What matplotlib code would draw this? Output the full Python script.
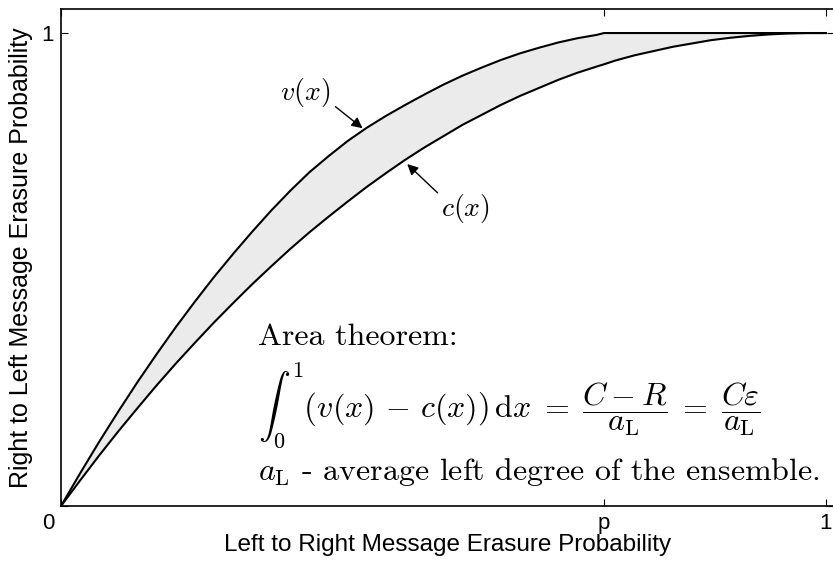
import matplotlib
matplotlib.use("Agg")
import matplotlib.pyplot as plt
import matplotlib.transforms as mtransforms

plt.rcParams['mathtext.fontset'] = 'cm'
plt.rcParams['font.family'] = ['Liberation Sans', 'DejaVu Sans']

# erasure probability where v(x) reaches 1
p_val = 0.71

# points along the two EXIT curves
x_pts = [0, .025, .05, .075, .10, .125, .15, .175, .20, .225, .25, .275, .30, .325,
         .35, .375, .40, .425, .45, .475, .50, .525, .55, .575, .60, .625, .65, .675,
         .70, .71, .725, .75, .775, .80, .825, .85, .875, .90, .925, .95, .975, 1.0]
v_pts = [0, .069, .136, .200, .262, .321, .378, .432, .484, .533, .580, .625, .667, .706,
         .740, .772, .800, .825, .848, .870, .891, .910, .927, .943, .957, .969, .980, .989,
         .996, 1.0, 1.0, 1.0, 1.0, 1.0, 1.0, 1.0, 1.0, 1.0, 1.0, 1.0, 1.0, 1.0]
c_pts = [0, .054, .107, .158, .207, .255, .301, .345, .388, .429, .469, .507, .544, .579,
         .612, .644, .675, .704, .732, .758, .782, .806, .827, .848, .867, .884, .901, .916,
         .929, .934, .942, .953, .962, .971, .978, .985, .990, .994, .997, .999, 1.0, 1.0]

x_ticks = [0, p_val, 1]
x_ticklabels = ['0', 'p', '1']
y_ticks = [0, 1]
y_ticklabels = ['', '1']

fig = plt.figure(figsize=(8.33, 5.66), dpi=100)
ax = fig.add_axes([0.0732, 0.106, 0.928, 0.878])

ax.fill_between(x_pts, c_pts, v_pts, color='#ebebeb', lw=0)
ax.plot(x_pts, v_pts, color='k', lw=1.5)
ax.plot(x_pts, c_pts, color='k', lw=1.5)

ax.set_xlim(0, 1.0105)
ax.set_ylim(0, 1.0507)

ax.set_xticks(x_ticks)
ax.set_xticklabels(x_ticklabels)
ax.set_yticks(y_ticks)
ax.set_yticklabels(y_ticklabels)
ax.tick_params(direction='in', length=5, width=0.8, labelsize=16,
               top=True, right=True, pad=5)
for s in ax.spines.values():
    s.set_linewidth(1.2)

# shift the shared "0" label down-left into the corner
lbl0 = ax.get_xticklabels()[0]
lbl0.set_transform(lbl0.get_transform() +
                   mtransforms.ScaledTranslation(-13 / 100, 0, fig.dpi_scale_trans))

ax.set_xlabel('Left to Right Message Erasure Probability', fontsize=17.5, labelpad=0)
ax.set_ylabel('Right to Left Message Erasure Probability', fontsize=18, labelpad=6)

# curve labels with arrows
ax.text(0.319, 0.875, r'$v(x)$', fontsize=20, ha='center', va='center')
ax.annotate('', xy=(0.397, 0.795), xytext=(0.356, 0.848),
            arrowprops=dict(arrowstyle='-|>', color='k', lw=1, mutation_scale=16))
ax.text(0.528, 0.630, r'$c(x)$', fontsize=20, ha='center', va='center')
ax.annotate('', xy=(0.45, 0.727), xytext=(0.495, 0.658),
            arrowprops=dict(arrowstyle='-|>', color='k', lw=1, mutation_scale=16))

# area theorem note
ax.text(0.2575, 0.340, 'Area theorem:', fontsize=23, family='cmr10', va='baseline')
ax.text(0.2575, 0.2135,
        r'$\int_0^1\left(v(x)\,-\,c(x)\right)\,\mathrm{d}x\;=\;\dfrac{C-R}{a_\mathrm{L}}\;=\;\dfrac{C\varepsilon}{a_\mathrm{L}}$',
        fontsize=23, va='center')
ax.text(0.2575, 0.055, r'$a_\mathrm{L}$ - average left degree of the ensemble.',
        fontsize=23, family='cmr10', va='baseline')

fig.savefig('out.png', dpi=100)
